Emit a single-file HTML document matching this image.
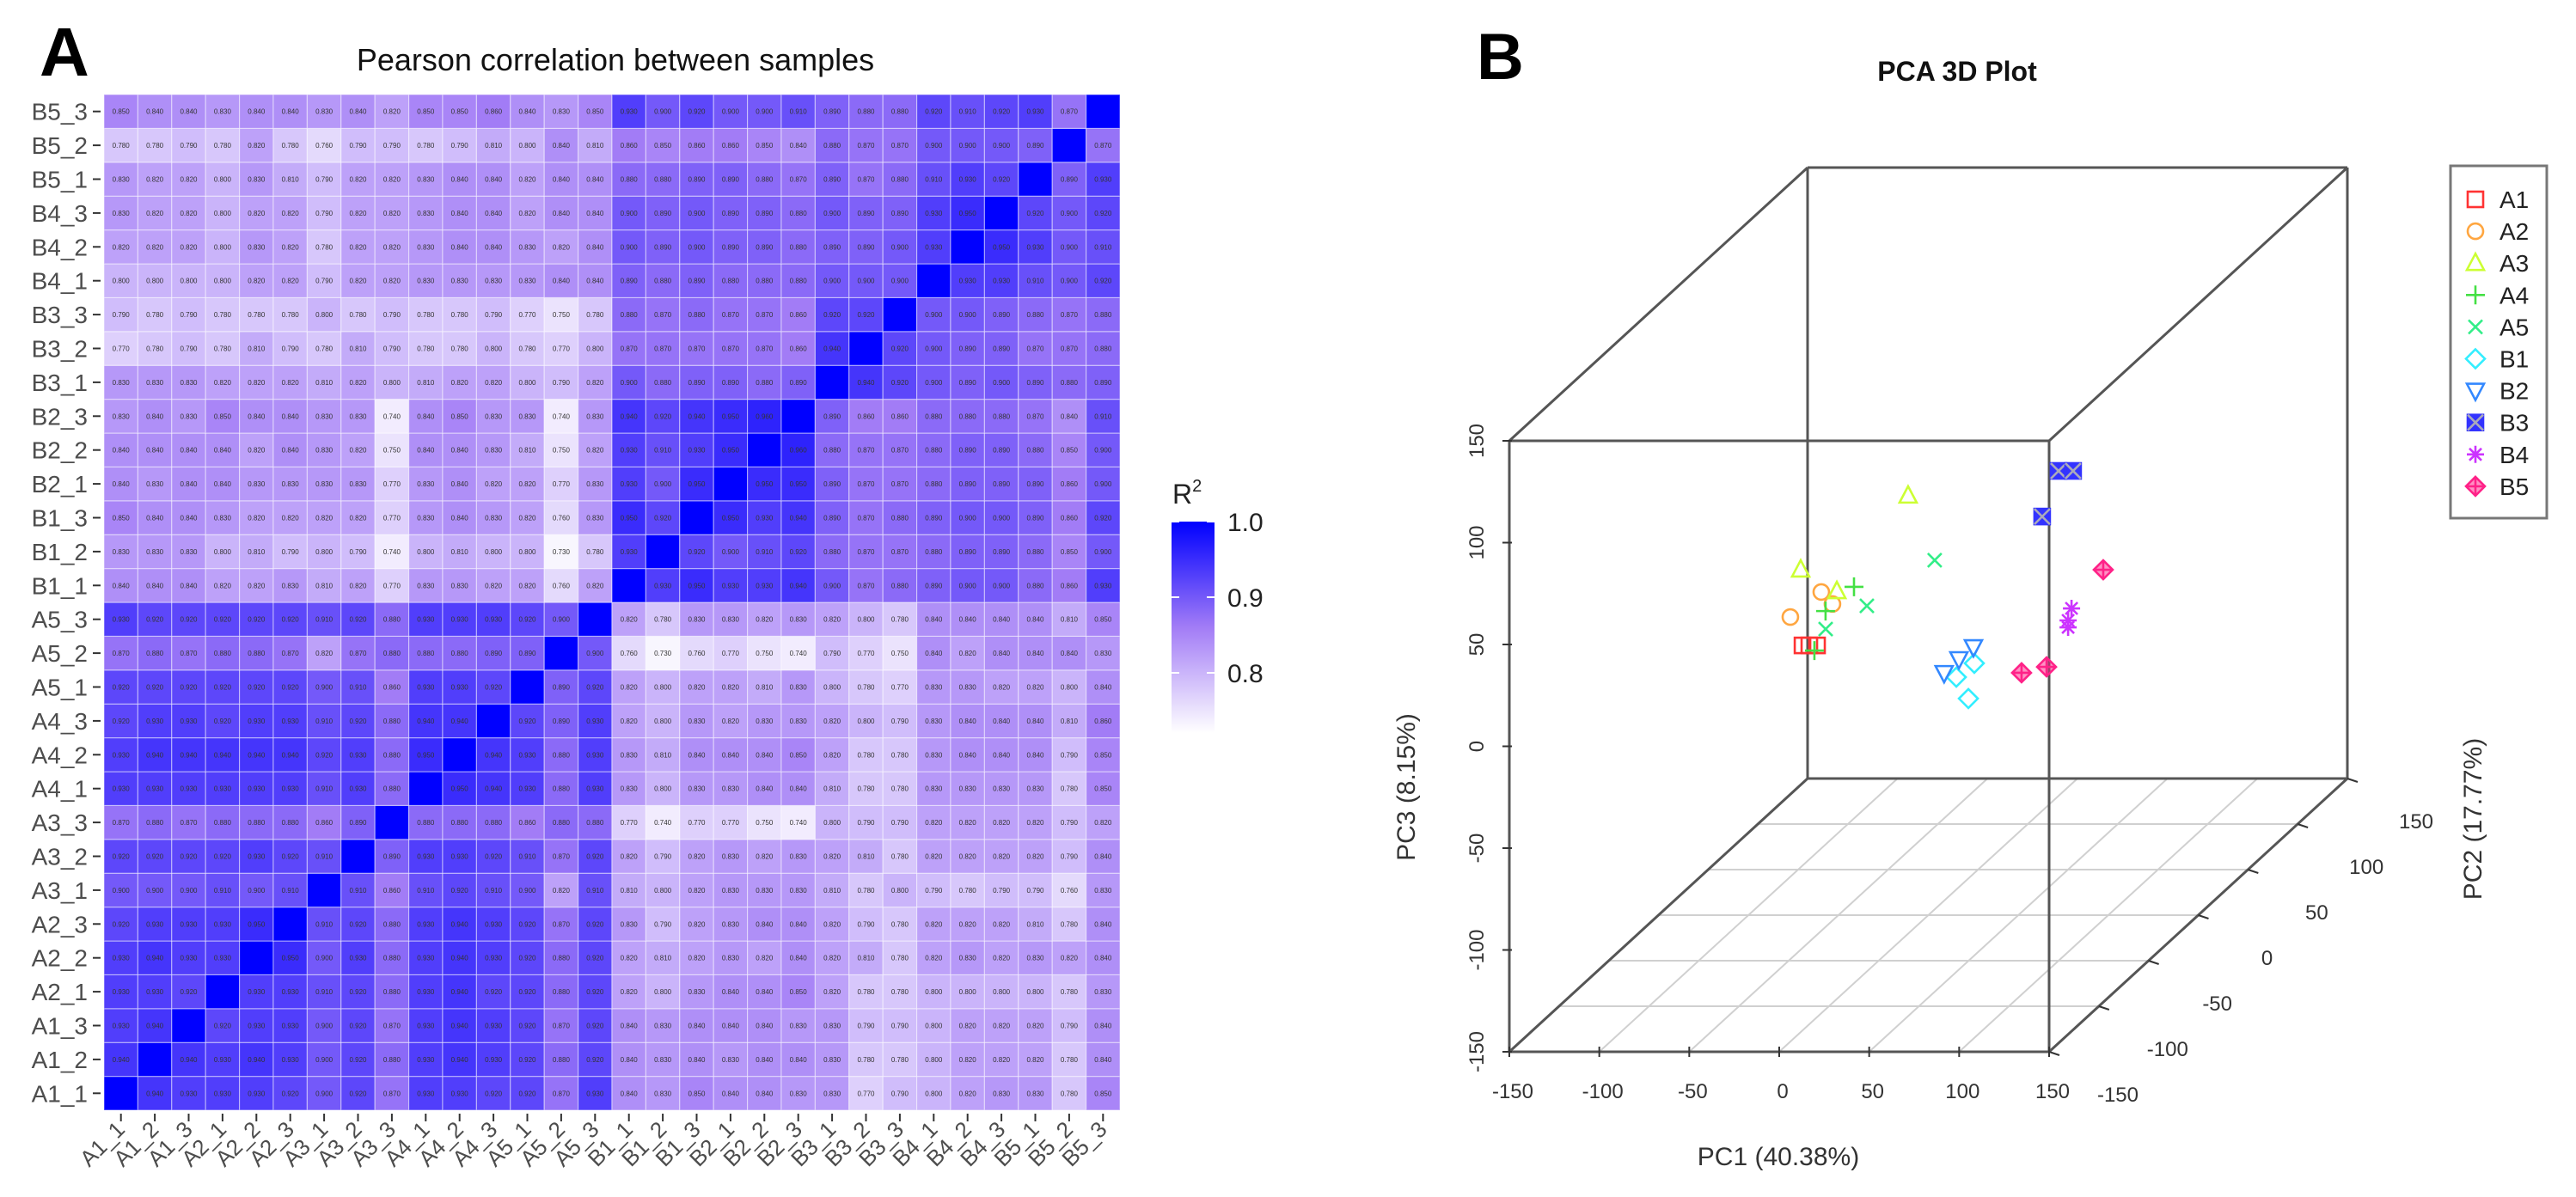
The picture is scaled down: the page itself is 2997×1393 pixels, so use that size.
<!DOCTYPE html>
<html><head><meta charset="utf-8">
<style>
html,body{margin:0;padding:0;background:#fff;}
svg{display:block;font-family:"Liberation Sans",Arial,sans-serif;}
</style></head>
<body>
<svg id="fig" xmlns="http://www.w3.org/2000/svg" width="2997" height="1393" viewBox="0 0 2997 1393">
  <rect x="0" y="0" width="2997" height="1393" fill="#fff"/>
  <text x="46" y="88" font-size="80" font-weight="bold" fill="#000">A</text>
  <text x="716" y="82" font-size="36" fill="#111" text-anchor="middle">Pearson correlation between samples</text>
  <g id="heat"></g>
  <g id="legendA">
    <text x="1364" y="586" font-size="32" fill="#222">R<tspan font-size="20" dy="-14">2</tspan></text>
    <defs>
      <linearGradient id="lg" x1="0" y1="0" x2="0" y2="1">
        <stop offset="0" stop-color="#0000ff"/>
        <stop offset="0.5" stop-color="#a27cf6"/>
        <stop offset="1" stop-color="#ffffff"/>
      </linearGradient>
    </defs>
    <rect x="1363" y="607" width="50" height="246" fill="url(#lg)"/>
  </g>
  <text x="1718" y="92" font-size="76" font-weight="bold" fill="#000">B</text>
  <text x="2277" y="94" font-size="32" font-weight="bold" fill="#111" text-anchor="middle">PCA 3D Plot</text>
  <g id="pca"></g>
</svg>
<script>
// ---------- Heatmap data ----------
const sampleLabels = ["A1_1","A1_2","A1_3","A2_1","A2_2","A2_3","A3_1","A3_2","A3_3","A4_1","A4_2","A4_3","A5_1","A5_2","A5_3",
  "B1_1","B1_2","B1_3","B2_1","B2_2","B2_3","B3_1","B3_2","B3_3","B4_1","B4_2","B4_3","B5_1","B5_2","B5_3"];
const aaLower = [
  [],
  [.94],
  [.93,.94],
  [.93,.93,.92],
  [.93,.94,.93,.93],
  [.92,.93,.93,.93,.95],
  [.90,.90,.90,.91,.90,.91],
  [.92,.92,.92,.92,.93,.92,.91],
  [.87,.88,.87,.88,.88,.88,.86,.89],
  [.93,.93,.93,.93,.93,.93,.91,.93,.88],
  [.93,.94,.94,.94,.94,.94,.92,.93,.88,.95],
  [.92,.93,.93,.92,.93,.93,.91,.92,.88,.94,.94],
  [.92,.92,.92,.92,.92,.92,.90,.91,.86,.93,.93,.92],
  [.87,.88,.87,.88,.88,.87,.82,.87,.88,.88,.88,.89,.89],
  [.93,.92,.92,.92,.92,.92,.91,.92,.88,.93,.93,.93,.92,.90]
];
const abBlock = [
  [.84,.83,.85,.84,.84,.83,.83,.77,.79,.80,.82,.83,.83,.78,.85],
  [.84,.83,.84,.83,.84,.84,.83,.78,.78,.80,.82,.82,.82,.78,.84],
  [.84,.83,.84,.84,.84,.83,.83,.79,.79,.80,.82,.82,.82,.79,.84],
  [.82,.80,.83,.84,.84,.85,.82,.78,.78,.80,.80,.80,.80,.78,.83],
  [.82,.81,.82,.83,.82,.84,.82,.81,.78,.82,.83,.82,.83,.82,.84],
  [.83,.79,.82,.83,.84,.84,.82,.79,.78,.82,.82,.82,.81,.78,.84],
  [.81,.80,.82,.83,.83,.83,.81,.78,.80,.79,.78,.79,.79,.76,.83],
  [.82,.79,.82,.83,.82,.83,.82,.81,.78,.82,.82,.82,.82,.79,.84],
  [.77,.74,.77,.77,.75,.74,.80,.79,.79,.82,.82,.82,.82,.79,.82],
  [.83,.80,.83,.83,.84,.84,.81,.78,.78,.83,.83,.83,.83,.78,.85],
  [.83,.81,.84,.84,.84,.85,.82,.78,.78,.83,.84,.84,.84,.79,.85],
  [.82,.80,.83,.82,.83,.83,.82,.80,.79,.83,.84,.84,.84,.81,.86],
  [.82,.80,.82,.82,.81,.83,.80,.78,.77,.83,.83,.82,.82,.80,.84],
  [.76,.73,.76,.77,.75,.74,.79,.77,.75,.84,.82,.84,.84,.84,.83],
  [.82,.78,.83,.83,.82,.83,.82,.80,.78,.84,.84,.84,.84,.81,.85]
];
const bbLower = [
  [],
  [.93],
  [.95,.92],
  [.93,.90,.95],
  [.93,.91,.93,.95],
  [.94,.92,.94,.95,.96],
  [.90,.88,.89,.89,.88,.89],
  [.87,.87,.87,.87,.87,.86,.94],
  [.88,.87,.88,.87,.87,.86,.92,.92],
  [.89,.88,.89,.88,.88,.88,.90,.90,.90],
  [.90,.89,.90,.89,.89,.88,.89,.89,.90,.93],
  [.90,.89,.90,.89,.89,.88,.90,.89,.89,.93,.95],
  [.88,.88,.89,.89,.88,.87,.89,.87,.88,.91,.93,.92],
  [.86,.85,.86,.86,.85,.84,.88,.87,.87,.90,.90,.90,.89],
  [.93,.90,.92,.90,.90,.91,.89,.88,.88,.92,.91,.92,.93,.87]
];
const legendTicks = [1.0, 0.9, 0.8];

// ---------- PCA data ----------
const groupNames = ["A1","A2","A3","A4","A5","B1","B2","B3","B4","B5"];
const groupColors = ["#ff3333","#ffa640","#ccff33","#44e044","#33ee88","#33eeff","#3388ff","#3333ff","#cc33ff","#ff2288"];
const pointGroup = [0,0,0,1,1,1,2,2,2,3,3,3,4,4,4,5,5,5,6,6,6,7,7,7,8,8,8,9,9,9];
const pc1 = [-81.0,-72.9,-77.2,-81.6,-75.4,-98.8,-0.2,-59.9,-39.8,-57.9,-73.7,-79.9,-2.0,-39.7,-62.6,58.7,48.7,55.4,52.7,44.6,36.4,39.2,47.3,30.1,85.1,83.2,83.2,97.2,65.7,51.8];
const pc2 = [20,20,20,40,40,40,-20,-20,-20,30,30,30,10,10,10,-60,-60,-60,-50,-50,-50,60,60,60,-10,-10,-10,0,0,0];
const pc3 = [-26.5,-26.5,-26.5,-9.2,-15.1,-21.5,64.9,28.6,18.0,-2.2,-14.1,-33.5,19.8,-2.6,-14.0,0.5,-6.3,-16.8,4.0,-1.9,-8.7,41.3,41.3,18.9,5.1,-0.8,-4.2,19.6,-28.1,-31.0];
const axisTicks = [-150,-100,-50,0,50,100,150];

const NS = "http://www.w3.org/2000/svg";
function mk(tag, attrs, parent){ const e=document.createElementNS(NS,tag); for(const k in attrs) e.setAttribute(k,attrs[k]); parent.appendChild(e); return e; }

// ---------- build matrix ----------
const N = sampleLabels.length;
const M = [];
for(let i=0;i<N;i++){ M.push(new Array(N).fill(1)); }
for(let i=0;i<15;i++) for(let j=0;j<i;j++){ M[i][j]=aaLower[i][j]; M[j][i]=aaLower[i][j]; }
for(let a=0;a<15;a++) for(let b=0;b<15;b++){ M[a][15+b]=abBlock[a][b]; M[15+b][a]=abBlock[a][b]; }
for(let i=0;i<15;i++) for(let j=0;j<i;j++){ M[15+i][15+j]=bbLower[i][j]; M[15+j][15+i]=bbLower[i][j]; }

// color scale
const vMin = 0.72, vMid = 0.86, vMax = 1.0;
function lerp(a,b,t){ return Math.round(a+(b-a)*t); }
function colorOf(v){
  let c1,c2,t;
  if(v<=vMid){ c1=[255,255,255]; c2=[162,124,246]; t=Math.max(0,(v-vMin)/(vMid-vMin)); }
  else { c1=[162,124,246]; c2=[0,0,255]; t=Math.min(1,(v-vMid)/(vMax-vMid)); }
  return "rgb("+lerp(c1[0],c2[0],t)+","+lerp(c1[1],c2[1],t)+","+lerp(c1[2],c2[2],t)+")";
}
const hx0=121, hy0=110, cs=39.4;
function colX(c){ return hx0 + c*cs; }
function rowY(r){ return hy0 + (N-1-r)*cs; }

const heat = document.getElementById("heat");
for(let r=0;r<N;r++){
  for(let c=0;c<N;c++){
    const v = M[r][c];
    const rect = mk("rect",{x:colX(c),y:rowY(r),width:cs,height:cs,fill:colorOf(v),stroke:"rgba(255,255,255,0.45)","stroke-width":1.2},heat);
    
    
    if(v<1){
      const t = mk("text",{x:colX(c)+cs/2,y:rowY(r)+cs/2+3,"font-size":8,fill:"#333","text-anchor":"middle"},heat);
      
      
      t.textContent = v.toFixed(3);
    }
  }
}
// y labels + ticks
for(let r=0;r<N;r++){
  const cy = rowY(r)+cs/2;
  const tk = mk("line",{x1:108,y1:cy,x2:117,y2:cy,stroke:"#333","stroke-width":2},heat);
  
  
  const t = mk("text",{x:102,y:cy+10,"font-size":28,fill:"#4d4d4d","text-anchor":"end"},heat);
  
  
  t.textContent = sampleLabels[r];
}
// x labels + ticks
const hBottom = hy0 + N*cs;
for(let c=0;c<N;c++){
  const cx = colX(c)+cs/2;
  const tk = mk("line",{x1:cx,y1:hBottom+4,x2:cx,y2:hBottom+13,stroke:"#333","stroke-width":2},heat);
  
  
  const t = mk("text",{x:cx+6,y:hBottom+24,"font-size":26,fill:"#4d4d4d","text-anchor":"end",transform:"rotate(-45 "+(cx+6)+" "+(hBottom+24)+")"},heat);
  
  
  t.textContent = sampleLabels[c];
}
// legend ticks
const legendG = document.getElementById("legendA");
function legY(v){ return 607 + (1 - v)*880; }
legendTicks.forEach(v=>{
  const y = legY(v);
  const l1 = mk("line",{x1:1363,y1:y,x2:1372,y2:y,stroke:"#fff","stroke-width":2},legendG);
  
  
  const l2 = mk("line",{x1:1404,y1:y,x2:1413,y2:y,stroke:"#fff","stroke-width":2},legendG);
  
  
  const t = mk("text",{x:1428,y:y+11,"font-size":30,fill:"#222"},legendG);
  
  
  t.textContent = v.toFixed(1);
});

// ---------- PCA 3D ----------
const pca = document.getElementById("pca");
const fx0=1756, fx1=2384, fyTop=513, fyBot=1224, ddx=347, ddy=-318;
function proj(x,y,z){
  const t=(y+150)/300;
  return [fx0 + (x+150)/300*(fx1-fx0) + t*ddx, fyBot - (z+150)/300*(fyBot-fyTop) + t*ddy];
}
function line3(a,b,attrs,name){
  const p=proj(...a), q=proj(...b);
  const l = mk("line",Object.assign({x1:p[0],y1:p[1],x2:q[0],y2:q[1]},attrs),pca);
  
  
}
// floor grid
const gridStyle = {stroke:"#d0d0d0","stroke-width":2};
axisTicks.slice(1,-1).forEach(v=>{
  line3([v,-150,-150],[v,150,-150],gridStyle,'floor-grid-line');
  line3([-150,v,-150],[150,v,-150],gridStyle,'floor-grid-line');
});
// box edges
const boxStyle = {stroke:"#555","stroke-width":3};
const L=-150,H=150;
[[[L,L,L],[H,L,L]],[[L,L,H],[H,L,H]],[[L,L,L],[L,L,H]],[[H,L,L],[H,L,H]],
 [[L,H,L],[H,H,L]],[[L,H,H],[H,H,H]],[[L,H,L],[L,H,H]],[[H,H,L],[H,H,H]],
 [[L,L,L],[L,H,L]],[[H,L,L],[H,H,L]],[[L,L,H],[L,H,H]],[[H,L,H],[H,H,H]]].forEach(e=>line3(e[0],e[1],boxStyle,'box-edge'));
// axis ticks and labels
axisTicks.forEach(v=>{
  // x axis
  let p=proj(v,-150,-150);
  let l=mk("line",{x1:p[0],y1:p[1]-6,x2:p[0],y2:p[1]+6,stroke:"#333","stroke-width":2},pca);
  
  
  let t=mk("text",{x:p[0]+4,y:p[1]+54,"font-size":24,fill:"#333","text-anchor":"middle"},pca);
  
  
  t.textContent = String(v);
  // z axis
  p=proj(-150,-150,v);
  l=mk("line",{x1:p[0]-8,y1:p[1],x2:p[0]+3,y2:p[1],stroke:"#333","stroke-width":2},pca);
  
  
  t=mk("text",{x:p[0]-30,y:p[1],"font-size":24,fill:"#333","text-anchor":"middle",transform:"rotate(-90 "+(p[0]-30)+" "+p[1]+")"},pca);
  
  
  t.textContent = String(v);
  // depth axis
  p=proj(150,v,-150);
  l=mk("line",{x1:p[0],y1:p[1],x2:p[0]+12,y2:p[1]+4,stroke:"#333","stroke-width":2},pca);
  
  
  t=mk("text",{x:p[0]+80,y:p[1]+58,"font-size":24,fill:"#333","text-anchor":"middle"},pca);
  
  
  t.textContent = String(v);
});
let at = mk("text",{x:2069,y:1356,"font-size":30,fill:"#333","text-anchor":"middle"},pca);


at.textContent = "PC1 (40.38%)";
at = mk("text",{x:1646,y:916,"font-size":30,fill:"#333","text-anchor":"middle",transform:"rotate(-90 1646 916)"},pca);


at.textContent = "PC3 (8.15%)";
at = mk("text",{x:2887,y:953,"font-size":30,fill:"#333","text-anchor":"middle",transform:"rotate(-90 2887 953)"},pca);


at.textContent = "PC2 (17.77%)";

// markers
function marker(g, cx, cy, col, parent){
  const s=9, sw=2.6;
  const grp = mk("g",{fill:"none",stroke:col,"stroke-width":sw},parent);
  if(g===0){ mk("rect",{x:cx-s,y:cy-s,width:2*s,height:2*s},grp); }
  else if(g===1){ mk("circle",{cx:cx,cy:cy,r:s},grp); }
  else if(g===2){ mk("polygon",{points:(cx)+","+(cy-s-2)+" "+(cx-s-1)+","+(cy+s-1)+" "+(cx+s+1)+","+(cy+s-1)},grp); }
  else if(g===3){ mk("path",{d:"M"+(cx-s-2)+" "+cy+"H"+(cx+s+2)+"M"+cx+" "+(cy-s-2)+"V"+(cy+s+2)},grp); }
  else if(g===4){ mk("path",{d:"M"+(cx-s+1)+" "+(cy-s+1)+"L"+(cx+s-1)+" "+(cy+s-1)+"M"+(cx+s-1)+" "+(cy-s+1)+"L"+(cx-s+1)+" "+(cy+s-1)},grp); }
  else if(g===5){ mk("polygon",{points:cx+","+(cy-s-2)+" "+(cx+s+2)+","+cy+" "+cx+","+(cy+s+2)+" "+(cx-s-2)+","+cy},grp); }
  else if(g===6){ mk("polygon",{points:(cx-s-1)+","+(cy-s+1)+" "+(cx+s+1)+","+(cy-s+1)+" "+cx+","+(cy+s+2)},grp); }
  else if(g===7){ mk("rect",{x:cx-s,y:cy-s,width:2*s,height:2*s,fill:col},grp); mk("path",{d:"M"+(cx-s)+" "+(cy-s)+"L"+(cx+s)+" "+(cy+s)+"M"+(cx+s)+" "+(cy-s)+"L"+(cx-s)+" "+(cy+s),stroke:"#aab"},grp); }
  else if(g===8){ mk("path",{d:"M"+(cx-s-1)+" "+cy+"H"+(cx+s+1)+"M"+cx+" "+(cy-s-1)+"V"+(cy+s+1)+"M"+(cx-s+2)+" "+(cy-s+2)+"L"+(cx+s-2)+" "+(cy+s-2)+"M"+(cx+s-2)+" "+(cy-s+2)+"L"+(cx-s+2)+" "+(cy+s-2)},grp); }
  else { mk("polygon",{points:cx+","+(cy-s-2)+" "+(cx+s+2)+","+cy+" "+cx+","+(cy+s+2)+" "+(cx-s-2)+","+cy,fill:col,"fill-opacity":0.5},grp); mk("path",{d:"M"+(cx-s-2)+" "+cy+"H"+(cx+s+2)+"M"+cx+" "+(cy-s-2)+"V"+(cy+s+2)},grp); }
  return grp;
}
for(let i=0;i<pc1.length;i++){
  const p = proj(pc1[i], pc2[i], pc3[i]);
  const g = pointGroup[i];
  const m = marker(g, p[0], p[1], groupColors[g], pca);
  
  
}
// legend
const lg = mk("g",{},pca);


const lbox = mk("rect",{x:2851,y:193,width:112,height:410,fill:"#fff",stroke:"#777","stroke-width":3},lg);


groupNames.forEach((nm,k)=>{
  const y = 232 + k*37.1;
  const m = marker(k, 2880, y, groupColors[k], lg);
  
  
  const t = mk("text",{x:2908,y:y+10,"font-size":28,fill:"#222"},lg);
  
  
  t.textContent = nm;
});
</script>
</body></html>
